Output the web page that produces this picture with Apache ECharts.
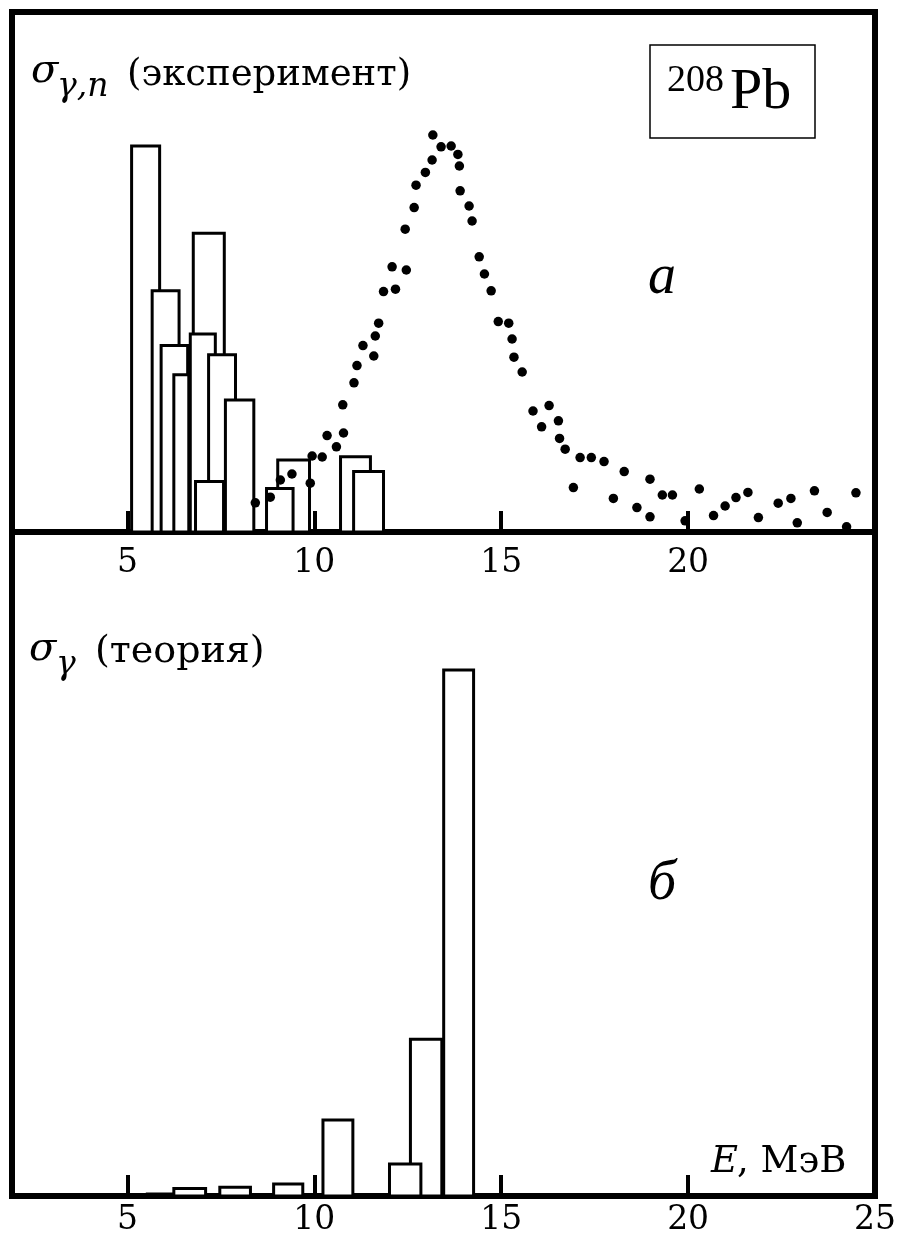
<!DOCTYPE html>
<html><head><meta charset="utf-8">
<script src="https://cdn.jsdelivr.net/npm/echarts@6/dist/echarts.min.js"></script>
<style>html,body{margin:0;padding:0;background:#fff}#c{width:903px;height:1243px}</style>
</head><body><div id="c"></div>
<script>
// ---- data (energy in MeV, cross-section in arbitrary units) ----
// experimental histogram bars: start energy, end energy, height
const expBarStart = [5.11, 5.66, 5.90, 6.24, 6.76, 6.68, 7.17, 7.62, 6.82, 9.02, 8.72, 10.70, 11.05];
const expBarEnd   = [5.86, 6.38, 6.61, 6.64, 7.59, 7.35, 7.89, 8.38, 7.57, 9.87, 9.43, 11.50, 11.85];
const expBarValue = [96.5, 60.3, 46.6, 39.3, 74.7, 49.5, 44.3, 33.0, 12.6, 18.0, 10.9, 18.8, 15.1];
// experimental (gamma,n) points
const expPointE = [8.42, 8.82, 9.09, 9.40, 9.89, 9.94, 10.21, 10.59, 10.34, 10.78, 10.76, 11.06, 11.14, 11.59, 11.30,
  11.63, 11.72, 11.85, 12.17, 12.08, 12.46, 12.43, 12.67, 12.72, 12.97, 13.15, 13.17, 13.39, 13.66, 13.84, 13.88,
  13.90, 14.14, 14.22, 14.41, 14.55, 14.73, 14.92, 15.20, 15.29, 15.34, 15.56, 15.85, 16.28, 16.08, 16.53, 16.56,
  16.71, 17.11, 17.41, 17.75, 16.93, 18.29, 18.00, 18.98, 18.63, 18.98, 19.31, 19.58, 20.30, 19.92, 20.68, 20.99,
  21.28, 21.60, 21.88, 22.41, 22.75, 23.38, 22.92, 23.72, 24.49, 24.24];
const expPointValue = [7.3, 8.7, 13.0, 14.5, 12.2, 19.0, 18.75, 21.3, 24.1, 24.75, 31.8, 37.3, 41.6, 44.0, 46.6,
  49.0, 52.2, 60.1, 60.7, 66.3, 65.5, 75.7, 81.1, 86.7, 89.9, 93.0, 99.25, 96.3, 96.5, 94.4, 91.5,
  85.3, 81.5, 77.75, 68.8, 64.5, 60.3, 52.6, 52.2, 48.25, 43.7, 40.0, 30.25, 31.6, 26.3, 27.8, 23.4,
  20.7, 18.6, 18.6, 17.6, 11.1, 15.1, 8.4, 13.2, 6.1, 3.8, 9.25, 9.25, 10.75, 2.8, 4.1, 6.5,
  8.6, 9.9, 3.6, 7.2, 8.4, 10.3, 2.3, 4.9, 9.8, 1.3];
// theoretical histogram bars
const theoBarStart = [5.53, 6.24, 7.47, 8.91, 10.23, 12.57, 12.01, 13.46];
const theoBarEnd   = [6.20, 7.09, 8.29, 9.69, 11.03, 13.41, 12.85, 14.26];
const theoBarValue = [0.5, 1.9, 2.2, 3.0, 19.0, 39.2, 8.0, 131.5];
// axis ticks / labels
const xTicks = [5, 10, 15, 20, 25];
const topXLabels = [5, 10, 15, 20];
const bottomXLabels = [5, 10, 15, 20, 25];

// ---- chart ----
const chart = echarts.init(document.getElementById('c'), null, {renderer: 'canvas'});
const SERIF = '"DejaVu Serif"';
const TIMES = '"Liberation Serif"';

function rectRender(params, api) {
  const p0 = api.coord([api.value(0), api.value(2)]);
  const p1 = api.coord([api.value(1), 0]);
  return {
    type: 'rect',
    shape: {x: p0[0], y: p0[1], width: p1[0] - p0[0], height: p1[1] - p0[1]},
    style: {fill: '#fff', stroke: '#000', lineWidth: 3}
  };
}

function xAxisDef(gridIndex, labels, margin) {
  return {
    type: 'value', gridIndex: gridIndex, min: 1.91, max: 25,
    axisLine: {show: false},
    splitLine: {show: false},
    axisTick: {show: true, inside: true, length: 21, customValues: xTicks,
      lineStyle: {color: '#000', width: 4}},
    axisLabel: {show: true, customValues: labels, margin: margin,
      color: '#000', fontFamily: SERIF, fontSize: 33}
  };
}

const txt = (x, y, text, font, extra) => Object.assign({
  type: 'text', x: x, y: y,
  style: {text: text, font: font, fill: '#000', verticalAlign: 'middle', textVerticalAlign: 'middle'}
}, extra || {});

const option = {
  backgroundColor: '#fff',
  animation: false,
  grid: [
    {left: 12, right: 28, top: 12, height: 520, show: true, borderWidth: 6, borderColor: '#000'},
    {left: 12, right: 28, top: 532, height: 664, show: true, borderWidth: 6, borderColor: '#000'}
  ],
  xAxis: [xAxisDef(0, topXLabels, 15), xAxisDef(1, bottomXLabels, 8)],
  yAxis: [
    {type: 'value', gridIndex: 0, min: 0, max: 130, show: false, splitLine: {show: false}},
    {type: 'value', gridIndex: 1, min: 0, max: 166, show: false, splitLine: {show: false}}
  ],
  series: [
    {
      type: 'custom', xAxisIndex: 0, yAxisIndex: 0,
      data: expBarStart.map((s, i) => [s, expBarEnd[i], expBarValue[i]]),
      encode: {x: [0, 1], y: 2},
      renderItem: rectRender, z: 2
    },
    {
      type: 'scatter', xAxisIndex: 0, yAxisIndex: 0,
      data: expPointE.map((e, i) => [e, expPointValue[i]]),
      symbol: 'circle', symbolSize: 9.5,
      itemStyle: {color: '#000', opacity: 1}, z: 3
    },
    {
      type: 'custom', xAxisIndex: 1, yAxisIndex: 1,
      data: theoBarStart.map((s, i) => [s, theoBarEnd[i], theoBarValue[i]]),
      encode: {x: [0, 1], y: 2},
      renderItem: rectRender, z: 2
    }
  ],
  graphic: [
    // top panel label
    txt(31, 72, 'σ', 'italic 40px ' + SERIF),
    txt(57, 87, 'γ,n', 'italic 33px ' + SERIF),
    txt(127, 75, '(эксперимент)', '37px ' + SERIF),
    // 208Pb box
    {type: 'rect', shape: {x: 650, y: 45, width: 165, height: 93}, style: {fill: '#fff', stroke: '#000', lineWidth: 1.5}, z: 10},
    txt(667, 81, '208', '38px ' + TIMES, {z: 11}),
    txt(730, 93, 'Pb', '58px ' + TIMES, {z: 11}),
    // panel letters
    txt(662, 278, 'а', 'italic 56px ' + TIMES),
    txt(662, 884, 'б', 'italic 56px ' + TIMES),
    // bottom panel label
    txt(29, 650, 'σ', 'italic 40px ' + SERIF),
    txt(56, 665, 'γ', 'italic 33px ' + SERIF),
    txt(95, 652, '(теория)', '38px ' + SERIF),
    // axis name
    txt(711, 1162, 'E', 'italic 37px ' + SERIF),
    txt(737, 1162, ', МэВ', '37px ' + SERIF)
  ]
};
// center the panel letters
option.graphic[6].style.align = option.graphic[6].style.textAlign = 'center';
option.graphic[7].style.align = option.graphic[7].style.textAlign = 'center';
chart.setOption(option);
</script></body></html>
